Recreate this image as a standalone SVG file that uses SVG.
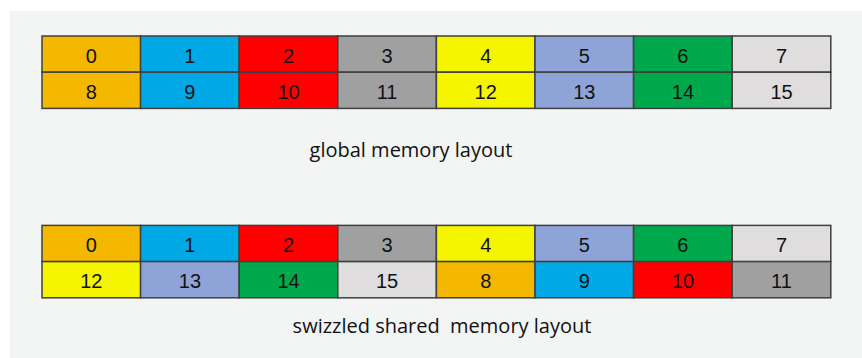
<svg xmlns="http://www.w3.org/2000/svg" width="862" height="358" viewBox="0 0 862 358">
<style>
.c{stroke:#3f3f3f;stroke-width:1.5}
.n{font-family:"Liberation Sans",Arial,sans-serif;font-size:20px;fill:#111;text-anchor:middle}
.lbl{font-family:"Open Sans","Liberation Sans",sans-serif;font-size:20px;fill:#111;text-anchor:middle}
.o{fill:#F5B800}.b{fill:#00A9E6}.r{fill:#FF0000}.g{fill:#A0A0A0}.y{fill:#F5F500}.v{fill:#8EA4D8}.gr{fill:#00A84C}.l{fill:#DFDDDE}
</style>
<rect x="0" y="0" width="862" height="358" fill="#ffffff"/>
<rect x="10" y="11" width="852" height="347" fill="#F3F4F4"/>
<g id="global">
<g id="g0"><rect class="c o" x="42" y="36" width="98.6" height="36.2"/><text class="n" x="91.3" y="62.7">0</text></g>
<g id="g1"><rect class="c b" x="140.6" y="36" width="98.6" height="36.2"/><text class="n" x="189.9" y="62.7">1</text></g>
<g id="g2"><rect class="c r" x="239.2" y="36" width="98.6" height="36.2"/><text class="n" x="288.5" y="62.7">2</text></g>
<g id="g3"><rect class="c g" x="337.8" y="36" width="98.6" height="36.2"/><text class="n" x="387.1" y="62.7">3</text></g>
<g id="g4"><rect class="c y" x="436.4" y="36" width="98.6" height="36.2"/><text class="n" x="485.7" y="62.7">4</text></g>
<g id="g5"><rect class="c v" x="535" y="36" width="98.6" height="36.2"/><text class="n" x="584.3" y="62.7">5</text></g>
<g id="g6"><rect class="c gr" x="633.6" y="36" width="98.6" height="36.2"/><text class="n" x="682.9" y="62.7">6</text></g>
<g id="g7"><rect class="c l" x="732.2" y="36" width="98.6" height="36.2"/><text class="n" x="781.5" y="62.7">7</text></g>
<g id="g8"><rect class="c o" x="42" y="72.2" width="98.6" height="36.2"/><text class="n" x="91.3" y="99">8</text></g>
<g id="g9"><rect class="c b" x="140.6" y="72.2" width="98.6" height="36.2"/><text class="n" x="189.9" y="99">9</text></g>
<g id="g10"><rect class="c r" x="239.2" y="72.2" width="98.6" height="36.2"/><text class="n" x="288.5" y="99">10</text></g>
<g id="g11"><rect class="c g" x="337.8" y="72.2" width="98.6" height="36.2"/><text class="n" x="387.1" y="99">11</text></g>
<g id="g12"><rect class="c y" x="436.4" y="72.2" width="98.6" height="36.2"/><text class="n" x="485.7" y="99">12</text></g>
<g id="g13"><rect class="c v" x="535" y="72.2" width="98.6" height="36.2"/><text class="n" x="584.3" y="99">13</text></g>
<g id="g14"><rect class="c gr" x="633.6" y="72.2" width="98.6" height="36.2"/><text class="n" x="682.9" y="99">14</text></g>
<g id="g15"><rect class="c l" x="732.2" y="72.2" width="98.6" height="36.2"/><text class="n" x="781.5" y="99">15</text></g>
</g>
<text class="lbl" x="411" y="157">global memory layout</text>
<g id="shared">
<g id="s0"><rect class="c o" x="42" y="225.4" width="98.6" height="36.2"/><text class="n" x="91.3" y="251.9">0</text></g>
<g id="s1"><rect class="c b" x="140.6" y="225.4" width="98.6" height="36.2"/><text class="n" x="189.9" y="251.9">1</text></g>
<g id="s2"><rect class="c r" x="239.2" y="225.4" width="98.6" height="36.2"/><text class="n" x="288.5" y="251.9">2</text></g>
<g id="s3"><rect class="c g" x="337.8" y="225.4" width="98.6" height="36.2"/><text class="n" x="387.1" y="251.9">3</text></g>
<g id="s4"><rect class="c y" x="436.4" y="225.4" width="98.6" height="36.2"/><text class="n" x="485.7" y="251.9">4</text></g>
<g id="s5"><rect class="c v" x="535" y="225.4" width="98.6" height="36.2"/><text class="n" x="584.3" y="251.9">5</text></g>
<g id="s6"><rect class="c gr" x="633.6" y="225.4" width="98.6" height="36.2"/><text class="n" x="682.9" y="251.9">6</text></g>
<g id="s7"><rect class="c l" x="732.2" y="225.4" width="98.6" height="36.2"/><text class="n" x="781.5" y="251.9">7</text></g>
<g id="s12"><rect class="c y" x="42" y="261.6" width="98.6" height="36.2"/><text class="n" x="91.3" y="288.2">12</text></g>
<g id="s13"><rect class="c v" x="140.6" y="261.6" width="98.6" height="36.2"/><text class="n" x="189.9" y="288.2">13</text></g>
<g id="s14"><rect class="c gr" x="239.2" y="261.6" width="98.6" height="36.2"/><text class="n" x="288.5" y="288.2">14</text></g>
<g id="s15"><rect class="c l" x="337.8" y="261.6" width="98.6" height="36.2"/><text class="n" x="387.1" y="288.2">15</text></g>
<g id="s8"><rect class="c o" x="436.4" y="261.6" width="98.6" height="36.2"/><text class="n" x="485.7" y="288.2">8</text></g>
<g id="s9"><rect class="c b" x="535" y="261.6" width="98.6" height="36.2"/><text class="n" x="584.3" y="288.2">9</text></g>
<g id="s10"><rect class="c r" x="633.6" y="261.6" width="98.6" height="36.2"/><text class="n" x="682.9" y="288.2">10</text></g>
<g id="s11"><rect class="c g" x="732.2" y="261.6" width="98.6" height="36.2"/><text class="n" x="781.5" y="288.2">11</text></g>
</g>
<text class="lbl" x="442" y="333" xml:space="preserve">swizzled shared  memory layout</text>
<g id="connectors"></g>
</svg>
